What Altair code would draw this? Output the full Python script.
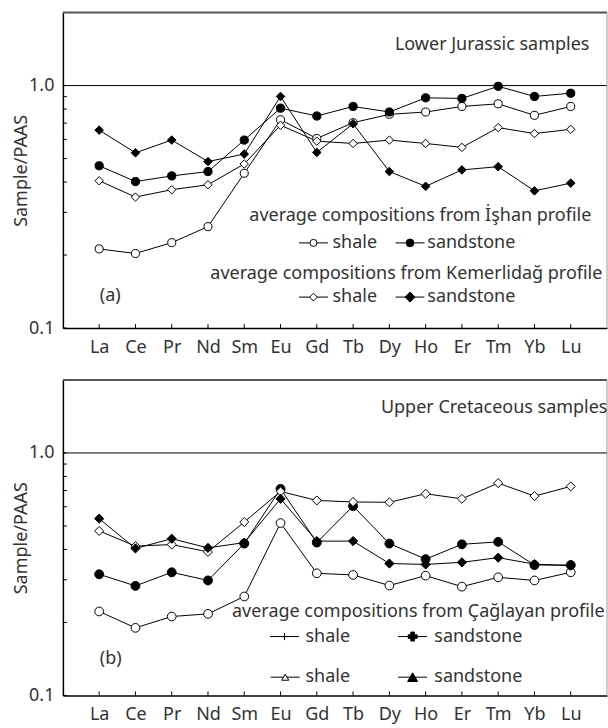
import altair as alt
import pandas as pd

# Rare earth elements along the x axis
elements = ["La", "Ce", "Pr", "Nd", "Sm", "Eu", "Gd", "Tb", "Dy", "Ho", "Er", "Tm", "Yb", "Lu"]

# (a) Lower Jurassic samples, normalised to PAAS
ishan_shale = [0.212, 0.203, 0.225, 0.262, 0.435, 0.723, 0.605, 0.703, 0.761, 0.778, 0.82, 0.841, 0.754, 0.82]
ishan_sandstone = [0.467, 0.402, 0.424, 0.442, 0.596, 0.807, 0.749, 0.82, 0.778, 0.89, 0.885, 0.993, 0.902, 0.93]
kemer_shale = [0.405, 0.347, 0.372, 0.39, 0.475, 0.686, 0.59, 0.577, 0.596, 0.577, 0.556, 0.671, 0.634, 0.66]
kemer_sandstone = [0.655, 0.528, 0.596, 0.486, 0.522, 0.902, 0.53, 0.696, 0.442, 0.384, 0.449, 0.463, 0.368, 0.396]

# (b) Upper Cretaceous samples, normalised to PAAS
caglayan_shale = [0.222, 0.19, 0.2116, 0.217, 0.256, 0.514, 0.319, 0.314, 0.284, 0.312, 0.281, 0.307, 0.298, 0.322]
caglayan_sandstone = [0.316, 0.283, 0.322, 0.298, 0.423, 0.711, 0.427, 0.604, 0.423, 0.365, 0.42, 0.43, 0.345, 0.345]
second_shale = [0.477, 0.413, 0.419, 0.391, 0.519, 0.694, 0.637, 0.628, 0.626, 0.679, 0.647, 0.751, 0.664, 0.728]
second_sandstone = [0.536, 0.404, 0.443, 0.406, 0.427, 0.647, 0.433, 0.433, 0.35, 0.347, 0.354, 0.37, 0.348, 0.343]

# Minor/major tick positions on the log axis
y_ticks = [0.1, 0.2, 0.3, 0.4, 0.5, 0.6, 0.7, 0.8, 0.9, 1.0]

W, H = 545, 316
FONT = "Noto Sans"
TXT = "#333333"
FS = 18

OPEN_PLUS = "M-1,0L1,0M0,-1L0,1"

X_AXIS = alt.Axis(
    title=None, ticks=False, domainColor="black", domainWidth=1.5,
    labelFont=FONT, labelFontSize=FS, labelColor=TXT, labelPadding=10,
    labelAngle=0, grid=False,
)

Y_AXIS = alt.Axis(
    title="Sample/PAAS", values=y_ticks, ticks=False, grid=False,
    domainColor="black", domainWidth=1.5,
    labelExpr="datum.value == 1 ? '1.0' : (datum.value < 0.15 ? '0.1' : '')",
    labelFont=FONT, labelFontSize=FS, labelColor=TXT, labelPadding=9,
    labelBaseline="middle", labelOverlap=False, labelFlush=False,
    titleFont=FONT, titleFontSize=FS, titleFontWeight="normal", titleColor=TXT,
    titleX=-41, titleY=H / 2, titleAlign="center", titleBaseline="middle",
    titleAngle=270,
)


def series_frame(series):
    rows = []
    for name, vals in series:
        for i, (el, v) in enumerate(zip(elements, vals)):
            rows.append({"series": name, "element": el, "idx": i, "value": v})
    return pd.DataFrame(rows)


def x_enc():
    return alt.X("element:N", sort=elements,
                 scale=alt.Scale(type="point", domain=elements, padding=1),
                 axis=X_AXIS)


def y_enc():
    return alt.Y("value:Q", scale=alt.Scale(type="log", domain=[0.1, 2.0], nice=False),
                 axis=Y_AXIS)


def text_at(txt, x, y, align="left"):
    return alt.Chart(pd.DataFrame({"t": [txt]})).mark_text(
        font=FONT, fontSize=FS, color=TXT, align=align, baseline="middle"
    ).encode(x=alt.value(x), y=alt.value(y), text="t:N")


def legend_key(x, y, shape, fill, size, stroke_w=1.0):
    line = alt.Chart(pd.DataFrame({"a": [0]})).mark_rule(color="black", strokeWidth=1).encode(
        x=alt.value(x - 14.5), x2=alt.value(x + 14.5), y=alt.value(y))
    pt = alt.Chart(pd.DataFrame({"a": [0]})).mark_point(
        shape=shape, filled=True, fill=fill, stroke="black", strokeWidth=stroke_w,
        size=size, opacity=1).encode(x=alt.value(x), y=alt.value(y))
    return [line, pt]


def panel(series, shapes, fills, sizes, extra):
    df = series_frame(series)
    names = [s[0] for s in series]

    frame_top = alt.Chart(pd.DataFrame({"a": [0]})).mark_rule(color="#555", strokeWidth=2).encode(
        x=alt.value(0), x2=alt.value(W), y=alt.value(0))
    frame_right = alt.Chart(pd.DataFrame({"a": [0]})).mark_rule(color="#999", strokeWidth=1).encode(
        x=alt.value(W), y=alt.value(0), y2=alt.value(H))

    one_line = alt.Chart(pd.DataFrame({"value": [1.0]})).mark_rule(
        color="black", strokeWidth=1).encode(y=y_enc())

    yticks = alt.Chart(pd.DataFrame({"value": y_ticks})).mark_rule(
        color="black", strokeWidth=1).encode(y=y_enc(), x=alt.value(0), x2=alt.value(4))
    xticks = alt.Chart(pd.DataFrame({"element": elements})).mark_rule(
        color="black", strokeWidth=1).encode(x=x_enc(), y=alt.value(H), y2=alt.value(H - 4))

    lines = alt.Chart(df).mark_line(color="black", strokeWidth=1).encode(
        x=x_enc(), y=y_enc(), detail="series:N", order="idx:Q")

    pts = alt.Chart(df).mark_point(filled=True, stroke="black", strokeWidth=1, opacity=1).encode(
        x=x_enc(), y=y_enc(),
        shape=alt.Shape("series:N", scale=alt.Scale(domain=names, range=shapes), legend=None),
        fill=alt.Fill("series:N", scale=alt.Scale(domain=names, range=fills), legend=None),
        size=alt.Size("series:N", scale=alt.Scale(domain=names, range=sizes), legend=None),
    )

    return alt.layer(lines, one_line, yticks, xticks, frame_top, frame_right, pts, *extra).properties(
        width=W, height=H)


top_extra = [
    text_at("Lower Jurassic samples", 430, 32, "center"),
    text_at("average compositions from İşhan profile", 358, 204, "center"),
    *legend_key(251, 230.7, "circle", "white", 50),
    text_at("shale", 270, 230.7),
    *legend_key(347.7, 230.7, "circle", "black", 60),
    text_at("sandstone", 365, 230.7),
    text_at("average compositions from Kemerlidağ profile", 344, 262.3, "center"),
    *legend_key(251, 285, "diamond", "white", 60),
    text_at("shale", 270, 285),
    *legend_key(347.7, 285, "diamond", "black", 100),
    text_at("sandstone", 365, 285),
    text_at("(a)", 37, 284),
]

bottom_extra = [
    text_at("Upper Cretaceous samples", 432, 27.7, "center"),
    text_at("average compositions from Çağlayan profile", 356, 232.7, "center"),
    *legend_key(222, 257, OPEN_PLUS, "white", 50),
    text_at("shale", 243, 257),
    *legend_key(350.3, 257, "cross", "black", 80),
    text_at("sandstone", 372, 257),
    *legend_key(222.7, 297.7, "triangle-up", "white", 50),
    text_at("shale", 243, 297.7),
    *legend_key(350.3, 297.7, "triangle-up", "black", 100),
    text_at("sandstone", 372, 297.7),
    text_at("(b)", 37, 279.3),
]

top = panel(
    [("İşhan shale", ishan_shale), ("İşhan sandstone", ishan_sandstone),
     ("Kemerlidağ shale", kemer_shale), ("Kemerlidağ sandstone", kemer_sandstone)],
    shapes=["circle", "circle", "diamond", "diamond"],
    fills=["white", "black", "white", "black"],
    sizes=[65, 85, 75, 125],
    extra=top_extra,
)

bottom = panel(
    [("Çağlayan shale", caglayan_shale), ("Çağlayan sandstone", caglayan_sandstone),
     ("shale", second_shale), ("sandstone", second_sandstone)],
    shapes=[OPEN_PLUS, "cross", "triangle-up", "triangle-up"],
    fills=["white", "black", "white", "black"],
    sizes=[60, 95, 75, 125],
    extra=bottom_extra,
)

chart = alt.vconcat(top, bottom, spacing=52, bounds="flush").properties(
    padding={"left": 13, "top": 11, "right": 0, "bottom": 0},
    background="white",
).configure_view(stroke=None)

chart.save("out.html", embed_options={"renderer": "svg", "actions": False})
